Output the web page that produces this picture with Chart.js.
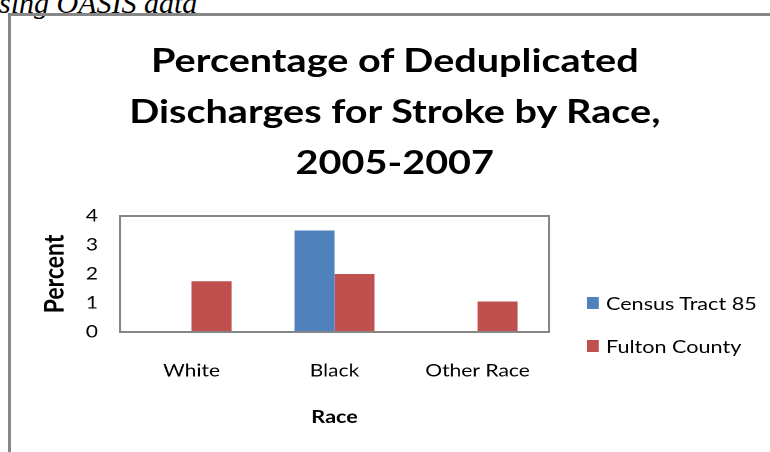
<!DOCTYPE html>
<html>
<head>
<meta charset="utf-8">
<script src="https://cdn.jsdelivr.net/npm/chart.js@4"></script>
<style>
    body { margin: 0; width: 770px; height: 452px; overflow: hidden; background: #fff; position: relative; }
    .nota { position: absolute; left: -1px; top: -12px; font: italic 30px/30px "Liberation Serif", serif; color: #000; white-space: nowrap; }
    .marco { position: absolute; left: 8px; top: 13px; width: 800px; height: 500px; border-left: 3px solid #878787; border-top: 3px solid #878787; }
    /* la figura original viene estirada en horizontal, se reproduce con scaleX */
    .lienzo { position: absolute; left: 0; top: 0; width: 642px; height: 452px; transform: scaleX(1.2); transform-origin: 0 0; }
    #titulo { position: absolute; left: 0; top: 34px; width: 658px; text-align: center; font: bold 33px/51px Lato, sans-serif; color: #000; }
    #barChart { position: absolute; left: 0; top: 196px; }
    .leyenda-item { position: absolute; left: 489px; height: 18px; display: flex; align-items: center; font: 18px/18px Lato, sans-serif; color: #000; white-space: nowrap; }
    .leyenda-item span { display: inline-block; width: 10px; height: 12px; margin-right: 6px; }
</style>
</head>
<body>
<div class="nota">sing OASIS data</div>
<div class="marco"></div>
<div class="lienzo">
    <div id="titulo">
        <div>Percentage of Deduplicated</div>
        <div>Discharges for Stroke by Race,</div>
        <div>2005-2007</div>
    </div>
    <canvas id="barChart" width="642" height="256"></canvas>
    <div id="leyenda"></div>
</div>

<script>
// ========================================================
// DATOS
// ========================================================
const categorias = ['White', 'Black', 'Other Race'];
const censusTract85 = [0, 3.5, 0];
const fultonCounty = [1.75, 2.0, 1.05];
const nombresSeries = ['Census Tract 85', 'Fulton County'];
const coloresSeries = ['#4F81BD', '#C0504D'];
const ticksY = [0, 1, 2, 3, 4];

// Marco gris alrededor del area de trazado
const bordeArea = {
    id: 'bordeArea',
    afterDatasetsDraw(chart) {
        const { ctx, chartArea } = chart;
        ctx.save();
        ctx.strokeStyle = '#868686';
        ctx.lineWidth = 2;
        ctx.strokeRect(chartArea.left, chartArea.top, chartArea.right - chartArea.left, chartArea.bottom - chartArea.top);
        ctx.restore();
    }
};

const ctx = document.getElementById('barChart').getContext('2d');
const chart = new Chart(ctx, {
    type: 'bar',
    data: {
        labels: categorias,
        datasets: [
            { label: nombresSeries[0], data: censusTract85, backgroundColor: coloresSeries[0] },
            { label: nombresSeries[1], data: fultonCounty, backgroundColor: coloresSeries[1] }
        ]
    },
    options: {
        responsive: false,
        animation: false,
        devicePixelRatio: 2,
        layout: { padding: { top: 20, right: 184.5, bottom: 23.9, left: 0 } },
        datasets: { bar: { categoryPercentage: 0.56, barPercentage: 1 } },
        plugins: { legend: { display: false }, tooltip: { enabled: false } },
        scales: {
            x: {
                grid: { display: false, drawTicks: false },
                border: { display: false },
                afterFit: scale => { scale.height = 96.1; },
                ticks: { color: '#000', padding: 28.3, font: { family: 'Lato', size: 17.5 } },
                title: { display: true, text: 'Race', color: '#000', padding: { top: 10, bottom: 0 }, font: { family: 'Lato', size: 18, weight: 'bold' } }
            },
            y: {
                min: ticksY[0],
                max: ticksY[ticksY.length - 1],
                grid: { display: false, drawTicks: false },
                border: { display: false },
                afterBuildTicks: scale => { scale.ticks = ticksY.map(v => ({ value: v })); },
                afterFit: scale => {
                    scale.width = 100;
                    scale.paddingTop = 10;
                    scale.paddingBottom = 10;
                },
                ticks: { color: '#000', padding: 18.3, autoSkip: false, font: { family: 'Lato', size: 17.5 } },
                title: { display: true, text: 'Percent', color: '#000', padding: { top: 32, bottom: 0 }, font: { family: 'Lato', size: 23, weight: 'bold' } }
            }
        }
    },
    plugins: [bordeArea]
});

// Leyenda HTML a la derecha
const leyenda = document.getElementById('leyenda');
const topsLeyenda = [293.5, 336.5];
chart.data.datasets.forEach((ds, i) => {
    const item = document.createElement('div');
    item.className = 'leyenda-item';
    item.style.top = topsLeyenda[i] + 'px';
    item.innerHTML = `<span style="background:${ds.backgroundColor}"></span>${ds.label}`;
    leyenda.appendChild(item);
});
</script>
</body>
</html>
